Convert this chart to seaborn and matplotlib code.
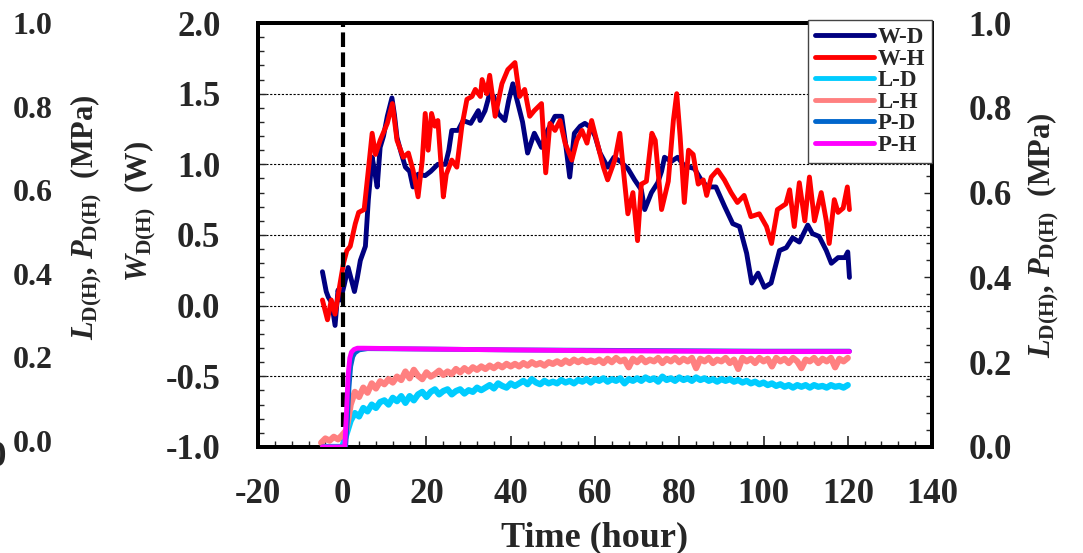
import numpy as np
import pandas as pd
import matplotlib
matplotlib.use("Agg")
import matplotlib.pyplot as plt
import seaborn as sns
from matplotlib.ticker import MultipleLocator, FormatStrFormatter
from matplotlib.lines import Line2D

# ---------------- data ----------------
# W-D (left axis, W)
t_WD = [-4.7, -3.8, -3.3, -2.5, -1.7, -1.0, -0.4, 0.5, 1.4, 2.2, 2.9, 3.6, 4.3, 5.5, 6.2, 7.1,
        7.7, 8.3, 9.0, 9.8, 10.7, 11.8, 12.4, 13.0, 14.0, 15.0, 16.0, 16.8, 18.0, 19.7, 21.0,
        22.7, 24.5, 25.3, 26.0, 27.5, 28.7, 30.5, 31.5, 32.3, 32.7, 33.9, 35.0, 36.0, 37.0,
        38.6, 39.5, 40.5, 41.7, 42.8, 44.0, 45.6, 47.3, 48.4, 50.5, 52.1, 53.0, 54.0, 55.1,
        56.5, 57.6, 59.0, 60.0, 61.2, 63.0, 64.5, 66.0, 67.8, 69.4, 71.0, 71.8, 73.4, 74.9,
        75.8, 76.5, 78.1, 79.6, 81.2, 83.6, 85.2, 86.7, 88.7, 90.8, 92.7, 94.3, 96.0, 97.2,
        98.7, 100.2, 101.8, 103.8, 105.4, 106.9, 108.5, 110.5, 111.6, 113.2, 114.9, 116.1,
        117.7, 119.3, 120.0, 120.4]
v_WD = [0.24, 0.10, 0.06, 0.02, -0.14, 0.11, 0.04, 0.15, 0.27, 0.18, 0.10, 0.20, 0.32, 0.42,
        0.75, 1.05, 0.95, 0.84, 1.12, 1.20, 1.34, 1.47, 1.35, 1.19, 1.08, 0.98, 0.95, 0.84,
        0.93, 0.92, 0.95, 1.00, 1.00, 1.10, 1.24, 1.24, 1.31, 1.29, 1.34, 1.38, 1.31, 1.38,
        1.50, 1.48, 1.36, 1.31, 1.45, 1.57, 1.43, 1.30, 1.08, 1.22, 1.12, 1.22, 1.34, 1.34,
        1.15, 0.91, 1.22, 1.27, 1.29, 1.26, 1.20, 1.08, 0.98, 1.05, 1.02, 0.97, 0.89, 0.82,
        0.68, 0.80, 0.87, 0.95, 1.05, 1.02, 1.05, 0.99, 0.97, 0.89, 0.84, 0.84, 0.70, 0.58,
        0.56, 0.37, 0.16, 0.23, 0.13, 0.16, 0.39, 0.41, 0.48, 0.45, 0.57, 0.51, 0.49, 0.39,
        0.30, 0.34, 0.34, 0.38, 0.20]

# W-H (left axis, W)
t_WH = [-4.7, -3.5, -2.6, -1.7, -0.5, 0.3, 1.1, 1.9, 3.1, 3.9, 5.2, 6.2, 7.1, 7.9, 9.0, 10.7,
        11.9, 13.0, 14.5, 15.7, 16.8, 18.0, 19.0, 19.7, 20.4, 21.2, 22.0, 22.7, 24.0, 24.7,
        26.0, 27.2, 28.4, 29.6, 30.8, 31.6, 32.8, 33.2, 34.3, 35.0, 36.3, 37.9, 39.3, 41.0,
        42.1, 43.3, 44.5, 45.6, 47.3, 48.3, 49.3, 50.5, 51.7, 52.9, 54.5, 55.7, 56.9, 58.1,
        59.2, 60.8, 62.0, 63.0, 64.7, 65.9, 66.7, 67.8, 69.0, 70.1, 71.0, 72.2, 73.5, 74.3,
        75.8, 77.4, 78.6, 79.4, 80.2, 81.2, 82.2, 83.3, 84.5, 85.7, 86.5, 87.6, 89.1, 90.7,
        92.3, 93.8, 95.4, 97.0, 99.0, 100.7, 101.9, 103.3, 105.3, 106.2, 107.3, 108.5, 109.8,
        110.9, 112.1, 113.7, 114.9, 115.6, 116.8, 117.7, 118.9, 119.9, 120.4]
v_WH = [0.04, -0.10, 0.04, -0.06, 0.16, 0.30, 0.39, 0.42, 0.58, 0.66, 0.68, 0.96, 1.22, 1.07,
        1.17, 1.29, 1.43, 1.17, 1.05, 1.08, 0.96, 0.77, 1.03, 1.36, 1.10, 1.36, 1.27, 1.31,
        0.77, 0.93, 1.03, 0.98, 1.27, 1.46, 1.48, 1.53, 1.48, 1.60, 1.50, 1.63, 1.34, 1.57,
        1.67, 1.72, 1.48, 1.53, 1.34, 1.38, 1.43, 0.94, 1.29, 1.24, 1.31, 1.15, 1.03, 1.17,
        1.24, 1.15, 1.31, 1.12, 0.98, 0.89, 1.03, 1.22, 0.97, 0.65, 0.80, 0.46, 0.86, 0.88,
        1.22, 1.17, 0.68, 0.88, 1.31, 1.50, 1.20, 0.73, 1.10, 1.07, 0.86, 0.89, 0.78, 0.91,
        0.96, 0.89, 0.80, 0.73, 0.78, 0.63, 0.65, 0.56, 0.44, 0.68, 0.72, 0.82, 0.56, 0.87,
        0.60, 0.91, 0.60, 0.80, 0.60, 0.44, 0.75, 0.66, 0.69, 0.84, 0.68]

# L-D and L-H (right axis, MPa), hourly readings from -5 h to 120 h
hours_L = list(range(-5, 121))
v_LD = [0.0, 0.0, 0.0, 0.0, 0.0, 0.0,
        0.030, 0.062, 0.080, 0.072, 0.092, 0.084, 0.100, 0.092, 0.106, 0.110,
        0.100, 0.116, 0.108, 0.120, 0.104, 0.120, 0.110, 0.124, 0.130, 0.118,
        0.130, 0.136, 0.124, 0.132, 0.136, 0.124, 0.132, 0.136, 0.126, 0.134,
        0.130, 0.140, 0.134, 0.140, 0.146, 0.138, 0.150, 0.144, 0.140, 0.150,
        0.144, 0.150, 0.156, 0.148, 0.160, 0.152, 0.148, 0.156, 0.150, 0.154,
        0.150, 0.158, 0.152, 0.156, 0.150, 0.158, 0.154, 0.160, 0.152, 0.160,
        0.156, 0.162, 0.154, 0.160, 0.156, 0.162, 0.150, 0.160, 0.156, 0.162,
        0.156, 0.164, 0.158, 0.162, 0.154, 0.166, 0.158, 0.162, 0.156, 0.164,
        0.158, 0.162, 0.156, 0.164, 0.158, 0.162, 0.156, 0.160, 0.154, 0.160,
        0.156, 0.160, 0.154, 0.158, 0.152, 0.156, 0.150, 0.154, 0.148, 0.152,
        0.146, 0.150, 0.144, 0.148, 0.142, 0.146, 0.140, 0.146, 0.142, 0.146,
        0.140, 0.146, 0.142, 0.144, 0.140, 0.146, 0.142, 0.144, 0.140, 0.146]
v_LH = [0.010, 0.020, 0.015, 0.024, 0.018, 0.028,
        0.040, 0.100, 0.130, 0.118, 0.140, 0.128, 0.150, 0.138, 0.155, 0.148,
        0.160, 0.152, 0.166, 0.158, 0.178, 0.162, 0.182, 0.168, 0.160, 0.176,
        0.166, 0.172, 0.180, 0.170, 0.178, 0.172, 0.184, 0.176, 0.186, 0.178,
        0.188, 0.182, 0.190, 0.184, 0.192, 0.186, 0.194, 0.188, 0.196, 0.190,
        0.196, 0.190, 0.198, 0.192, 0.200, 0.194, 0.198, 0.192, 0.200, 0.196,
        0.202, 0.196, 0.204, 0.198, 0.206, 0.200, 0.206, 0.200, 0.204, 0.200,
        0.206, 0.198, 0.208, 0.200, 0.210, 0.202, 0.206, 0.188, 0.208, 0.200,
        0.210, 0.200, 0.206, 0.202, 0.210, 0.198, 0.208, 0.202, 0.210, 0.200,
        0.208, 0.202, 0.210, 0.186, 0.208, 0.202, 0.210, 0.198, 0.206, 0.202,
        0.210, 0.198, 0.206, 0.184, 0.210, 0.202, 0.208, 0.198, 0.210, 0.202,
        0.208, 0.190, 0.210, 0.202, 0.208, 0.198, 0.210, 0.202, 0.186, 0.206,
        0.202, 0.210, 0.198, 0.208, 0.202, 0.210, 0.188, 0.208, 0.202, 0.210]

# P-D and P-H (right axis, MPa)
t_PD = [-4.7, 0.8, 1.2, 1.6, 2.0, 2.5, 3.0, 4.0, 6.0, 20, 40, 60, 80, 100, 120.4]
v_PD = [0.0, 0.0, 0.06, 0.14, 0.19, 0.213, 0.222, 0.229, 0.232, 0.231, 0.229, 0.228, 0.227, 0.226, 0.226]
t_PH = [-4.7, 0.6, 1.0, 1.4, 1.8, 2.2, 2.8, 3.6, 5.0, 20, 40, 60, 80, 100, 120.4]
v_PH = [0.0, 0.0, 0.08, 0.17, 0.21, 0.224, 0.230, 0.233, 0.233, 0.231, 0.229, 0.227, 0.226, 0.225, 0.225]

series_names = ["W-D", "W-H", "L-D", "L-H", "P-D", "P-H"]
series_colors = ["#000080", "#ff0000", "#00ccff", "#ff8080", "#0066cc", "#ff00ff"]
ghost_ticks = [0.0, 0.2, 0.4, 0.6, 0.8, 1.0]

# ---------------- style ----------------
sns.set_style("ticks")
plt.rcParams['font.family'] = ['Liberation Serif', 'DejaVu Serif']
plt.rcParams['font.weight'] = 'bold'
plt.rcParams['axes.labelweight'] = 'bold'
plt.rcParams['axes.unicode_minus'] = False
plt.rcParams['mathtext.fontset'] = 'custom'
plt.rcParams['mathtext.rm'] = 'Liberation Serif:bold'
plt.rcParams['mathtext.it'] = 'Liberation Serif:italic:bold'
plt.rcParams['mathtext.bf'] = 'Liberation Serif:bold'
plt.rcParams['xtick.direction'] = 'in'
plt.rcParams['ytick.direction'] = 'in'

fig = plt.figure(figsize=(10.83, 5.53), dpi=100)
ax = fig.add_axes([0.2382, 0.1917, 0.6224, 0.7667])

col = dict(zip(series_names, series_colors))
LW = 3.5

df_WD = pd.DataFrame({"t": t_WD, "v": v_WD})
df_WH = pd.DataFrame({"t": t_WH, "v": v_WH})
sns.lineplot(data=df_WD, x="t", y="v", ax=ax, color=col["W-D"], lw=LW, estimator=None, sort=False, zorder=5)
sns.lineplot(data=df_WH, x="t", y="v", ax=ax, color=col["W-H"], lw=LW, estimator=None, sort=False, zorder=6)

ax.set_xlim(-20, 140)
ax.set_ylim(-1, 2)
ax.xaxis.set_major_locator(MultipleLocator(20))
ax.xaxis.set_minor_locator(MultipleLocator(4))
ax.yaxis.set_major_locator(MultipleLocator(0.5))
ax.yaxis.set_minor_locator(MultipleLocator(0.1))
ax.yaxis.set_major_formatter(FormatStrFormatter('%.1f'))
ax.grid(axis='y', which='major', color='black', linestyle=(0, (2, 1.5)), linewidth=0.8)
ax.tick_params(axis='x', which='major', labelsize=25, length=8, width=1.2, pad=22, top=False)
ax.tick_params(axis='x', which='minor', length=4, width=1.0, top=False)
ax.tick_params(axis='y', which='major', labelsize=25, length=6, width=1.0, pad=27, right=False)
ax.tick_params(axis='y', which='minor', length=4, width=1.0, right=False)
ax.set_xlabel("Time (hour)", fontsize=26, fontweight='bold', labelpad=8)
ax.set_ylabel("")
ax.axvline(0.3, color='black', lw=3, linestyle=(0, (3.5, 1.3)), zorder=7)
for s in ax.spines.values():
    s.set_linewidth(2.8)
    s.set_color('black')

# ghost axis at far left (0.0 - 1.0)
ax3 = ax.twinx()
ax3.set_ylim(-0.015, 1.0)
ax3.set_yticks(ghost_ticks)
ax3.yaxis.set_major_formatter(FormatStrFormatter('%.1f'))
ax3.yaxis.set_ticks_position('left')
ax3.tick_params(axis='y', length=0, pad=148, labelsize=23, labelleft=True, labelright=False)
for s in ax3.spines.values():
    s.set_visible(False)

# right axis (MPa)
ax2 = ax.twinx()
df_LD = pd.DataFrame({"t": hours_L, "v": v_LD})
df_LH = pd.DataFrame({"t": hours_L, "v": v_LH})
df_PD = pd.DataFrame({"t": t_PD, "v": v_PD})
df_PH = pd.DataFrame({"t": t_PH, "v": v_PH})
sns.lineplot(data=df_LD, x="t", y="v", ax=ax2, color=col["L-D"], lw=4.5, estimator=None, sort=False, zorder=2)
sns.lineplot(data=df_LH, x="t", y="v", ax=ax2, color=col["L-H"], lw=4.5, estimator=None, sort=False, zorder=3)
sns.lineplot(data=df_PD, x="t", y="v", ax=ax2, color=col["P-D"], lw=LW, estimator=None, sort=False, zorder=4)
sns.lineplot(data=df_PH, x="t", y="v", ax=ax2, color=col["P-H"], lw=LW, estimator=None, sort=False, zorder=5)
ax2.set_ylim(0, 1)
ax2.yaxis.set_major_locator(MultipleLocator(0.2))
ax2.yaxis.set_minor_locator(MultipleLocator(0.04))
ax2.yaxis.set_major_formatter(FormatStrFormatter('%.1f'))
ax2.tick_params(axis='y', which='major', labelsize=25, length=6, width=1.0, pad=26)
ax2.tick_params(axis='y', which='minor', length=4, width=1.0)
ax2.set_xlabel("")
for s in ax2.spines.values():
    s.set_linewidth(2.8)
    s.set_color('black')

handles = [Line2D([0], [0], color=c, lw=LW) for c in series_colors]
leg = ax2.legend(handles, series_names, loc='upper right', bbox_to_anchor=(1.0, 1.006),
                 borderaxespad=0, prop={'size': 16.5, 'weight': 'bold'}, frameon=True,
                 fancybox=False, edgecolor='#444444', framealpha=1, handlelength=2.6,
                 handletextpad=0.15, labelspacing=0.02, borderpad=0.3)
leg.get_frame().set_linewidth(1.0)
leg.set_zorder(20)

# axis titles
fig.text(0.0794, 1 - 217 / 553, r"$L_{\mathrm{D(H)}}$, $P_{\mathrm{D(H)}}$  (MPa)", rotation=90,
         ha='center', va='center', fontsize=22, fontweight='bold')
fig.text(0.129, 1 - 212 / 553, r"$W_{\mathrm{D(H)}}$  (W)", rotation=90,
         ha='center', va='center', fontsize=22, fontweight='bold')
ax2.set_ylabel(r"$L_{\mathrm{D(H)}}$, $P_{\mathrm{D(H)}}$  (MPa)", fontsize=22,
               fontweight='bold', labelpad=10)
# clipped label from neighbouring panel
fig.text(0.006, 1 - 458 / 553, "0", ha='right', va='center', fontsize=25, fontweight='bold')

fig.savefig("out.png", dpi=100)
